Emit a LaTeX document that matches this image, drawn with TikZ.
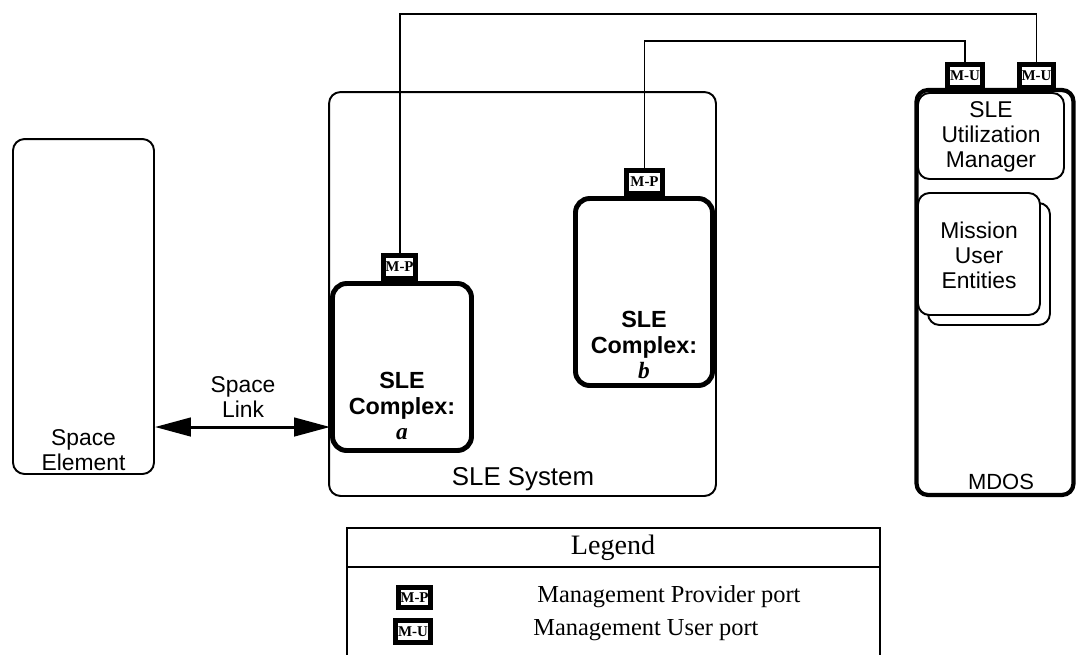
\documentclass[tikz,border=0pt]{standalone}
\usepackage{fontspec}
\setmainfont{Liberation Serif}
\setsansfont{Liberation Sans}
\usetikzlibrary{arrows.meta}
\tikzset{%
  box/.style     = {shape=rectangle, rounded corners=6.5pt, draw,%
                    line width=1.1pt, inner sep=0pt},%
  cplx/.style    = {box, rounded corners=8pt, line width=2.8pt},%
  mdos/.style    = {box, line width=2.4pt},%
  port/.style    = {shape=rectangle, draw, line width=2.6pt, fill=white,%
                    inner sep=0pt, font=\rmfamily\bfseries\fontsize{8.5}{9}\selectfont},%
  lbl/.style     = {align=center, inner sep=0pt,%
                    font=\sffamily\fontsize{13}{14.3}\selectfont},%
  blbl/.style    = {align=center, inner sep=0pt,%
                    font=\sffamily\bfseries\fontsize{13.3}{14.6}\selectfont},%
  wire/.style    = {line width=1.1pt},%
  link/.style    = {line width=1.7pt,%
                    {Triangle[length=0.72cm,width=0.37cm]}-{Triangle[length=0.72cm,width=0.37cm]}}%
}
\begin{document}
\begin{tikzpicture}[x=0.02cm,y=-0.02cm]
	\useasboundingbox (0,0) rectangle (1076,654);
	% space element and SLE system
	\node [box, minimum width=2.82cm, minimum height=6.70cm] (elem) at (83.5,306.5) {};
	\node [lbl] (elemtxt) at (83.5,450) {Space\\Element};
	\node [box, minimum width=7.74cm, minimum height=8.08cm] (sys) at (522.5,294) {};
	\node [lbl, font=\sffamily\fontsize{14.7}{16}\selectfont] (systxt) at (523,479) {SLE System};
	% complexes
	\node [cplx, minimum width=2.78cm, minimum height=3.34cm] (cxa) at (402,367) {};
	\node [blbl] (cxatxt) at (402,406) {SLE\\Complex:\\{\rmfamily\itshape a}};
	\node [cplx, minimum width=2.74cm, minimum height=3.74cm] (cxb) at (644,292) {};
	\node [blbl] (cxbtxt) at (644,345) {SLE\\Complex:\\{\rmfamily\itshape b}};
	% MDOS
	\node [mdos, minimum width=3.14cm, minimum height=8.10cm] (mdos) at (995,292.5) {};
	\node [lbl, font=\sffamily\fontsize{12.5}{14}\selectfont] (mdostxt) at (1001,482) {MDOS};
	\node [box, minimum width=2.92cm, minimum height=1.72cm] (util) at (991,136) {};
	\node [lbl] (utiltxt) at (991,137) {SLE\\Utilization\\Manager};
	\node [box, fill=white, minimum width=2.44cm, minimum height=2.44cm] (mueback) at (989,264) {};
	\node [box, fill=white, minimum width=2.44cm, minimum height=2.44cm] (mue) at (979,254) {};
	\node [lbl] (muetxt) at (979,255) {Mission\\User\\Entities};
	% space link
	\coordinate (lnk) at (243,427);
	\draw [link] (elem.east |- lnk) -- (cxa.west |- lnk);
	\node [lbl] (lnktxt) at (243,397) {Space\\Link};
	% management wires
	\draw [wire] (cxa.north -| 400,0) -- (400,14) -| (1036.5,76);
	\draw [wire] (cxb.north -| 644.5,0) -- (644.5,41) -| (965,76);
	% ports
	\node [port, minimum width=0.64cm, minimum height=0.46cm] (pa) at (399.5,267) {M-P};
	\node [port, minimum width=0.72cm, minimum height=0.46cm] (pb) at (644.5,182) {M-P};
	\node [port, minimum width=0.70cm, minimum height=0.46cm] (mul) at (965,76) {M-U};
	\node [port, minimum width=0.68cm, minimum height=0.46cm] (mur) at (1036.5,76) {M-U};
	% legend
	\draw [wire] (347,664) -- (347,528) -- (880,528) -- (880,664);
	\draw [wire] (347,567) -- (880,567);
	\node [inner sep=0pt, font=\fontsize{16}{18}\selectfont] (legtitle) at (613,548) {Legend};
	\node [port, minimum width=0.64cm, minimum height=0.40cm] (lp) at (414.5,597.5) {M-P};
	\node [port, minimum width=0.70cm, minimum height=0.44cm] (lu) at (413,631.5) {M-U};
	\node [anchor=west, inner sep=0pt, font=\fontsize{13.9}{15}\selectfont] (lptxt) at (537,597) {Management Provider port};
	\node [anchor=west, inner sep=0pt, font=\fontsize{13.9}{15}\selectfont] (lutxt) at (533,630) {Management User port};
\end{tikzpicture}
\end{document}
